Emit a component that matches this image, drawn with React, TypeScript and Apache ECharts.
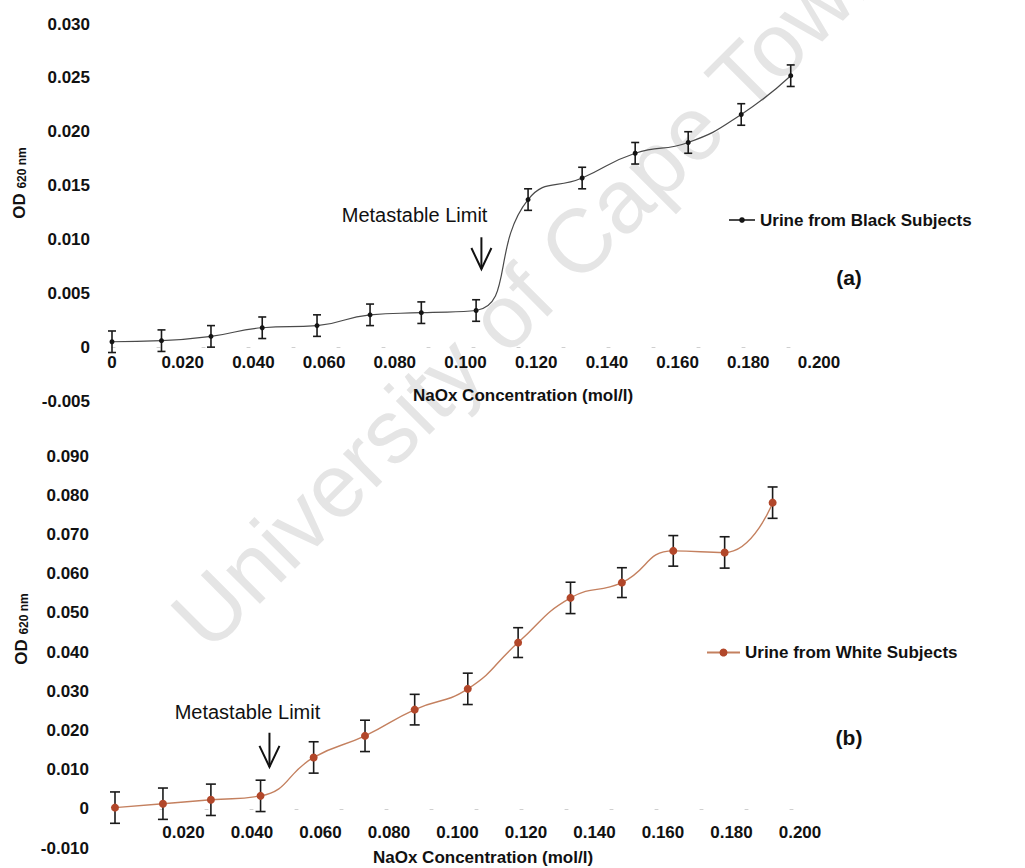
import React, { useEffect, useRef } from 'react';
import * as echarts from 'echarts';

// NaOx concentration (mol/l) of each titration step
const concentration = [0, 0.014, 0.028, 0.0425, 0.058, 0.073, 0.0875, 0.103, 0.1177, 0.133, 0.148, 0.163, 0.178, 0.192];

// (a) urine from black subjects: mean OD620 and error
const blackMean = [0.0005, 0.0006, 0.001, 0.0018, 0.002, 0.003, 0.0032, 0.0034, 0.0137, 0.0157, 0.018, 0.019, 0.0216, 0.0252];
const blackErr = [0.001, 0.001, 0.001, 0.001, 0.001, 0.001, 0.001, 0.001, 0.001, 0.001, 0.001, 0.001, 0.001, 0.001];

// (b) urine from white subjects: mean OD620 and error
const whiteMean = [0.0003, 0.0013, 0.0023, 0.0033, 0.0131, 0.0186, 0.0253, 0.0306, 0.0424, 0.0538, 0.0577, 0.0658, 0.0654, 0.0781];
const whiteErr = [0.004, 0.004, 0.004, 0.004, 0.004, 0.004, 0.0039, 0.004, 0.0038, 0.004, 0.0038, 0.0039, 0.004, 0.004];

// axis ticks
const xTicks = [0, 0.02, 0.04, 0.06, 0.08, 0.1, 0.12, 0.14, 0.16, 0.18, 0.2];
const topYTicks = [-0.005, 0, 0.005, 0.01, 0.015, 0.02, 0.025, 0.03];
const bottomYTicks = [-0.01, 0, 0.01, 0.02, 0.03, 0.04, 0.05, 0.06, 0.07, 0.08, 0.09];

// metastable limit markers: [concentration, arrow tip OD, arrow tail OD, label OD]
const limitA = [0.1045, 0.00725, 0.0102, 0.01226];
const limitB = [0.0451, 0.0107, 0.0194, 0.0247];

const NAME_A = 'Urine from Black Subjects';
const NAME_B = 'Urine from White Subjects';
const X_NAME = 'NaOx Concentration (mol/l)';

const FONT = "'Liberation Sans', Arial, Helvetica, sans-serif";
const INK = '#111111';

// plot areas
const GRID_A = { left: 112, top: 24, width: 707, height: 377 };
const GRID_B = { left: 115, top: 456, width: 685, height: 392 };

const fmt = (v: number) => (Math.abs(v) < 1e-9 ? '0' : v.toFixed(3));

const labelStyle = { fontSize: 17, fontWeight: 'bold' as const, color: INK, fontFamily: FONT };

// distance from the bottom of a plot area up to its zero line
const zeroLift = (ticks: number[], height: number) =>
  (height * (0 - ticks[0])) / (ticks[ticks.length - 1] - ticks[0]);

function errorBars(name: string, axis: number, means: number[], errs: number[], capHalf: number) {
  return {
    type: 'custom',
    name,
    xAxisIndex: axis,
    yAxisIndex: axis,
    z: 2,
    silent: true,
    data: concentration.map((c, i) => [c, means[i] - errs[i], means[i] + errs[i]]),
    encode: { x: 0, y: [1, 2] },
    renderItem: (_params: any, api: any) => {
      const x = api.value(0);
      const lo = api.coord([x, api.value(1)]);
      const hi = api.coord([x, api.value(2)]);
      const style = { stroke: '#1a1a1a', lineWidth: 1.6 };
      return {
        type: 'group',
        children: [
          { type: 'line', shape: { x1: hi[0], y1: hi[1], x2: lo[0], y2: lo[1] }, style },
          { type: 'line', shape: { x1: hi[0] - capHalf, y1: hi[1], x2: hi[0] + capHalf, y2: hi[1] }, style },
          { type: 'line', shape: { x1: lo[0] - capHalf, y1: lo[1], x2: lo[0] + capHalf, y2: lo[1] }, style },
        ],
      };
    },
  };
}

function xAxisFor(grid: number, lift: number, margin: number, showZero: boolean, namePad: number) {
  return {
    gridIndex: grid,
    type: 'value',
    min: xTicks[0],
    max: xTicks[xTicks.length - 1],
    interval: xTicks[1] - xTicks[0],
    offset: -lift,
    axisLine: { show: true, onZero: false, lineStyle: { color: '#cfcfcf', width: 1, type: [3, 42] } },
    axisTick: { show: false },
    splitLine: { show: false },
    axisLabel: {
      ...labelStyle,
      margin,
      showMinLabel: true,
      showMaxLabel: true,
      formatter: (v: number) => (!showZero && Math.abs(v) < 1e-9 ? '' : fmt(v)),
    },
    name: X_NAME,
    nameLocation: 'middle',
    nameGap: 40,
    nameTextStyle: { ...labelStyle, padding: [0, 0, 0, namePad] },
  };
}

function yAxisFor(grid: number, ticks: number[], margin: number) {
  return {
    gridIndex: grid,
    type: 'value',
    min: ticks[0],
    max: ticks[ticks.length - 1],
    interval: ticks[1] - ticks[0],
    axisLine: { show: false },
    axisTick: { show: false },
    splitLine: { show: false },
    axisLabel: { ...labelStyle, margin, formatter: fmt, showMinLabel: true, showMaxLabel: true },
  };
}

function legendFor(name: string, left: number, top: number, w: number, h: number) {
  return {
    data: [name],
    left,
    top,
    orient: 'horizontal',
    padding: 0,
    itemWidth: w,
    itemHeight: h,
    selectedMode: false,
    textStyle: { ...labelStyle },
  };
}

export default function App() {
  const ref = useRef<HTMLDivElement>(null);

  useEffect(() => {
    if (!ref.current) return;
    const chart = echarts.init(ref.current, undefined, { renderer: 'svg' });

    chart.setOption({
      animation: false,
      backgroundColor: '#ffffff',
      textStyle: { fontFamily: FONT },
      grid: [
        { ...GRID_A, outerBoundsMode: 'none' },
        { ...GRID_B, outerBoundsMode: 'none' },
      ],
      xAxis: [
        xAxisFor(0, zeroLift(topYTicks, GRID_A.height), 7, true, 115),
        xAxisFor(1, zeroLift(bottomYTicks, GRID_B.height), 15, false, 51),
      ],
      yAxis: [yAxisFor(0, topYTicks, 22), yAxisFor(1, bottomYTicks, 26)],
      legend: [legendFor(NAME_A, 728, 211.5, 26, 7), legendFor(NAME_B, 706, 644, 33, 10)],
      series: [
        errorBars('Black error', 0, blackMean, blackErr, 4),
        {
          type: 'line',
          name: NAME_A,
          xAxisIndex: 0,
          yAxisIndex: 0,
          z: 3,
          smooth: 0.5,
          symbol: 'circle',
          symbolSize: 5,
          data: concentration.map((c, i) => [c, blackMean[i]]),
          lineStyle: { color: '#4a4a4a', width: 1.2 },
          itemStyle: { color: '#151515' },
        },
        errorBars('White error', 1, whiteMean, whiteErr, 5),
        {
          type: 'line',
          name: NAME_B,
          xAxisIndex: 1,
          yAxisIndex: 1,
          z: 3,
          smooth: 0.5,
          symbol: 'circle',
          symbolSize: 8,
          data: concentration.map((c, i) => [c, whiteMean[i]]),
          lineStyle: { color: '#c4805f', width: 1.4 },
          itemStyle: { color: '#b2472a' },
        },
      ],
    });

    // annotations anchored to data coordinates
    const px = (axis: number, x: number, y: number) =>
      chart.convertToPixel({ xAxisIndex: axis, yAxisIndex: axis }, [x, y]) as number[];

    const arrow = (axis: number, lim: number[], half: number, headLen: number) => {
      const tip = px(axis, lim[0], lim[1]);
      const tail = px(axis, lim[0], lim[2]);
      const st = { stroke: INK, lineWidth: 2, fill: null };
      return [
        { type: 'line', z: 10, shape: { x1: tip[0], y1: tail[1], x2: tip[0], y2: tip[1] }, style: st },
        {
          type: 'polyline',
          z: 10,
          shape: { points: [[tip[0] - half, tip[1] - headLen], [tip[0], tip[1]], [tip[0] + half, tip[1] - headLen]] },
          style: st,
        },
      ];
    };

    const tA = px(0, limitA[0], limitA[3]);
    const tB = px(1, limitB[0], limitB[3]);
    const limitText = { fontSize: 20, fontFamily: FONT, fill: INK, verticalAlign: 'middle' };
    const odRich = {
      a: { fontSize: 17, fontWeight: 'bold', fontFamily: FONT, fill: INK, verticalAlign: 'bottom' },
      b: { fontSize: 12, fontWeight: 'bold', fontFamily: FONT, fill: INK, verticalAlign: 'bottom' },
    };

    chart.setOption({
      graphic: [
        {
          type: 'text',
          z: -5,
          silent: true,
          x: 530,
          y: 290,
          rotation: Math.PI / 4,
          style: {
            text: 'University of Cape Town',
            fontSize: 90,
            fontFamily: FONT,
            fill: '#e5e5e5',
            align: 'center',
            verticalAlign: 'middle',
          },
        },
        ...arrow(0, limitA, 10, 21),
        ...arrow(1, limitB, 10, 21),
        { type: 'text', z: 10, x: tA[0] + 6, y: tA[1], style: { ...limitText, text: 'Metastable Limit', align: 'right' } },
        { type: 'text', z: 10, x: tB[0] - 22, y: tB[1], style: { ...limitText, text: 'Metastable Limit', align: 'center' } },
        {
          type: 'text', z: 10, x: 849, y: 277,
          style: { text: '(a)', fontSize: 21, fontWeight: 'bold', fontFamily: FONT, fill: INK, align: 'center', verticalAlign: 'middle' },
        },
        {
          type: 'text', z: 10, x: 849, y: 737,
          style: { text: '(b)', fontSize: 21, fontWeight: 'bold', fontFamily: FONT, fill: INK, align: 'center', verticalAlign: 'middle' },
        },
        {
          type: 'text', z: 10, x: 19, y: 183, rotation: Math.PI / 2,
          style: { text: '{a|OD }{b|620 nm}', rich: odRich, align: 'center', verticalAlign: 'middle' },
        },
        {
          type: 'text', z: 10, x: 21, y: 629, rotation: Math.PI / 2,
          style: { text: '{a|OD }{b|620 nm}', rich: odRich, align: 'center', verticalAlign: 'middle' },
        },
      ],
    });

    return () => chart.dispose();
  }, []);

  return (
    <div
      ref={ref}
      style={{ position: 'fixed', left: 0, top: 0, width: 1025, height: 868, background: '#ffffff' }}
    />
  );
}
